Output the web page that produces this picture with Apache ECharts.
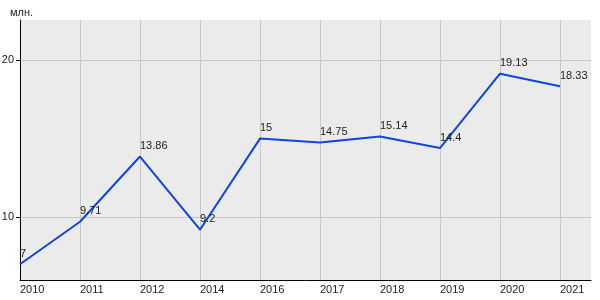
<!DOCTYPE html>
<html>
<head>
<meta charset="utf-8">
<script src="https://cdn.jsdelivr.net/npm/echarts@6/dist/echarts.min.js"></script>
<style>html,body{margin:0;padding:0;background:#fff}#c{width:600px;height:300px}</style>
</head>
<body>
<div id="c"></div>
<script>
var categories = ['2010','2011','2012','2014','2016','2017','2018','2019','2020','2021'];
var values = [7, 9.71, 13.86, 9.2, 15, 14.75, 15.14, 14.4, 19.13, 18.33];
var valueLabels = ['7','9.71','13.86','9.2','15','14.75','15.14','14.4','19.13','18.33'];
var yTicks = [10, 20];
var unitLabel = 'млн.';

var xIdx = categories.map(function(_, i){ return i; });
var data = values.map(function(v, i){ return [i, v]; });
var font = 'Liberation Sans, Arial, sans-serif';

var chart = echarts.init(document.getElementById('c'), null, {renderer:'canvas'});
chart.setOption({
  animation: false,
  backgroundColor: '#fff',
  grid: {left: 20, right: 9, top: 20, bottom: 20, show: true, backgroundColor: '#EBEBEB', borderWidth: 0,
         containLabel: false, outerBoundsMode: 'none'},
  graphic: [{type:'text', left: 10, top: 7, style:{text: unitLabel, font: '11px ' + font, fill:'#222'}}],
  xAxis: {
    type: 'value', min: 0, max: 9.517,
    axisLine: {show: true, lineStyle: {color: '#000', width: 1}},
    axisTick: {show: false, customValues: xIdx},
    axisLabel: {customValues: xIdx, align: 'left', margin: 4, color: '#222', fontSize: 11, fontFamily: font,
      formatter: function(v){ return categories[Math.round(v)] || ''; }},
    splitLine: {show: true, lineStyle: {color: '#C8C8C8', width: 1}}
  },
  yAxis: {
    type: 'value', min: 6, max: 22.55,
    axisLine: {show: true, onZero: false, lineStyle: {color: '#000', width: 1}},
    axisTick: {show: true, inside: false, length: 4, customValues: yTicks, lineStyle: {color: '#000', width: 1}},
    axisLabel: {customValues: yTicks, margin: 6, color: '#222', fontSize: 11, fontFamily: font},
    splitLine: {show: true, lineStyle: {color: '#C8C8C8', width: 1}}
  },
  series: [{
    type: 'line', data: data, symbol: 'circle', symbolSize: 2, showSymbol: true, clip: false,
    itemStyle: {color: 'rgba(0,0,0,0)', borderWidth: 0},
    lineStyle: {color: '#0a46e0', width: 2},
    label: {show: true, position: 'top', align: 'left', distance: 4, color: '#222', fontSize: 11, fontFamily: font,
      formatter: function(p){ return valueLabels[p.dataIndex]; }},
    labelLayout: {hideOverlap: false}
  }]
});
</script>
</body>
</html>
